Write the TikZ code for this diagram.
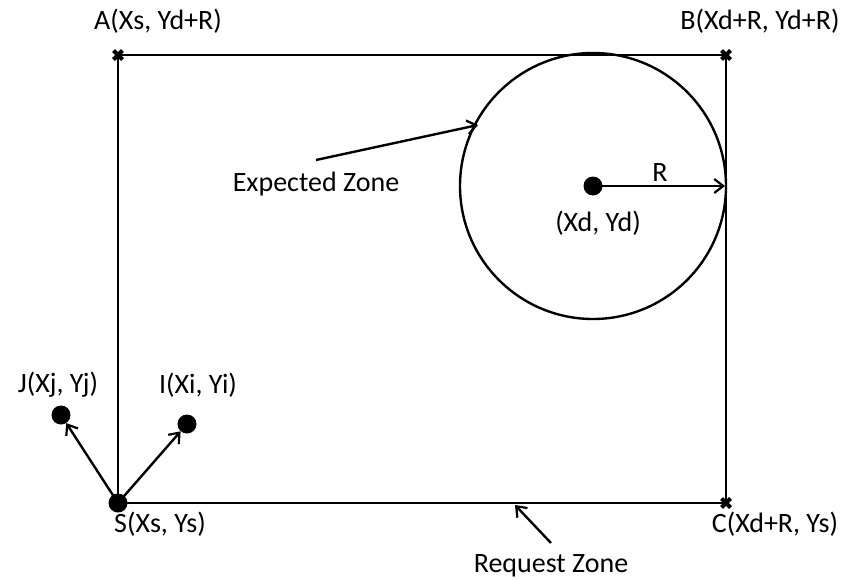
\documentclass[tikz,border=0pt]{standalone}
\usepackage{fontspec}
\setmainfont{Carlito}
\usetikzlibrary{arrows.meta}
\begin{document}
\begin{tikzpicture}[x=1pt,y=-1pt,
  line/.style={line width=2.8pt},
  arr/.style={line width=2.4pt,-{Straight Barb[length=9pt,width=14pt,line width=2.2pt]}},
  dot/.style={circle,fill=black,inner sep=0pt,minimum size=19pt},
  lbl/.style={font=\fontsize{28}{32}\selectfont,inner sep=0pt},
  crossmark/.style={line width=4pt}]
\useasboundingbox (0,0) rectangle (841,581);
\coordinate (A) at (118,55);
\coordinate (B) at (726,55);
\coordinate (C) at (726,503);
\node[dot] (S) at (118,503) {};
\draw[line] (A) -- (B) -- (C) -- (S.center) -- cycle;
\foreach \p in {A,B,C}{
  \draw[crossmark] ([shift={(-4.5,-4.5)}]\p) -- ([shift={(4.5,4.5)}]\p);
  \draw[crossmark] ([shift={(-4.5,4.5)}]\p) -- ([shift={(4.5,-4.5)}]\p);
}
\node[circle,draw,line width=2.4pt,minimum size=266pt,inner sep=0pt] (circ) at (593,186) {};
\node[dot] (D) at (593,186) {};
\coordinate (Rend) at (725,186);
\draw[arr] (D.center) -- (Rend);
\node[dot] (J) at (61,415) {};
\node[dot] (I) at (187,424) {};
\draw[arr] (S.center) -- (J);
\draw[arr] (S.center) -- (I);
\node[lbl] (lA) at (158,21) {A(Xs, Yd+R)};
\node[lbl] (lB) at (760,21) {B(Xd+R, Yd+R)};
\node[lbl] (lR) at (660,173) {R};
\node[lbl] (lD) at (598,223) {(Xd, Yd)};
\node[lbl] (lE) at (316,184) {Expected Zone};
\node[lbl] (lJ) at (58,385) {J(Xj, Yj)};
\node[lbl] (lI) at (198,385) {I(Xi, Yi)};
\node[lbl] (lS) at (160,524) {S(Xs, Ys)};
\node[lbl] (lC) at (775,524) {C(Xd+R, Ys)};
\node[lbl] (lQ) at (551,566) {Request Zone};
\coordinate (Estart) at (316,160);
\coordinate (Eend) at (478,125);
\draw[arr] (Estart) -- (Eend);
\coordinate (Qstart) at (551,543);
\coordinate (Qend) at (515,505);
\draw[arr] (Qstart) -- (Qend);
\end{tikzpicture}
\end{document}
